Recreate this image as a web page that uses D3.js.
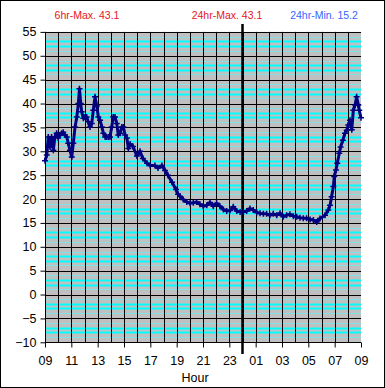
<!DOCTYPE html>
<html>
<head>
<meta charset="utf-8">
<script src="https://cdn.jsdelivr.net/npm/d3@7"></script>
<style>
  body { margin: 0; background: #fff; }
  text { font-family: "Liberation Sans", Arial, sans-serif; }
</style>
</head>
<body>
<div id="chart"></div>
<script>
// minutes after 09:00 and temperature
const minutes = [0, 8, 15, 23, 30, 38, 45, 53, 60, 68, 76, 83, 91, 99, 106, 114, 122, 129, 137, 145,
    152, 157, 163, 167, 175, 182, 190, 197, 205, 213, 220, 228, 236, 243, 251, 259, 266, 274, 281, 289,
    296, 304, 311, 319, 327, 334, 342, 350, 357, 365, 373, 380, 388, 401, 419, 433, 446, 465, 479, 501,
    515, 533, 547, 560, 579, 597, 606, 615, 630, 646, 661, 676, 691, 706, 721, 737, 752, 767, 782, 797,
    813, 828, 843, 858, 874, 889, 904, 919, 934, 949, 965, 980, 995, 1010, 1025, 1040, 1056, 1071, 1086, 1101,
    1116, 1132, 1147, 1162, 1177, 1192, 1208, 1223, 1238, 1253, 1276, 1291, 1299, 1306, 1314, 1318, 1326, 1332, 1341, 1347,
    1357, 1367, 1375, 1382, 1390, 1398, 1405, 1413, 1420, 1428, 1432, 1440];
const temps = [28.0, 29.2, 33.0, 30.9, 33.0, 30.2, 33.0, 33.8, 32.8, 33.4, 33.8, 34.0, 33.4, 33.0, 31.7, 30.2, 28.8, 31.7, 35.1, 37.2,
    40.0, 43.1, 40.0, 38.3, 36.9, 37.2, 37.2, 36.2, 35.1, 35.8, 38.6, 41.4, 39.5, 37.2, 36.5, 35.1, 33.8, 33.0, 33.0, 33.0,
    33.0, 35.1, 37.2, 37.2, 35.8, 33.4, 33.8, 35.1, 35.1, 33.4, 32.8, 30.6, 31.5, 31.0, 29.0, 30.0, 28.5, 27.5, 27.0, 27.0,
    26.5, 27.0, 26.0, 25.0, 23.5, 22.0, 21.0, 20.6, 19.9, 19.4, 19.1, 19.2, 19.4, 18.9, 18.5, 18.7, 19.3, 18.5, 19.1, 18.5,
    17.8, 17.5, 17.6, 18.4, 17.5, 17.3, 17.3, 17.5, 18.0, 17.7, 17.2, 17.0, 16.9, 16.9, 16.6, 16.9, 16.6, 17.0, 16.3, 16.6,
    16.8, 16.4, 16.3, 16.1, 16.0, 16.0, 15.7, 15.6, 15.2, 15.9, 16.6, 17.7, 18.7, 20.5, 22.6, 24.7, 26.1, 27.5, 29.6, 30.9,
    32.3, 33.8, 34.4, 35.5, 36.5, 34.5, 38.6, 39.7, 41.4, 39.7, 38.6, 37.0];

const yTicks = [55, 50, 45, 40, 35, 30, 25, 20, 15, 10, 5, 0, -5, -10];
const xTicks = [0, 120, 240, 360, 480, 600, 720, 840, 960, 1080, 1200, 1320, 1440];
const startHour = 9;
const midnight = 900;

const stats = [
    {label: "6hr-Max. 43.1", color: "#e8141c", x: 87},
    {label: "24hr-Max. 43.1", color: "#e8141c", x: 227},
    {label: "24hr-Min. 15.2", color: "#3366ff", x: 324}
];

const data = minutes.map((m, i) => ({m: m, v: temps[i]}));

const W = 385, H = 388;
const svg = d3.select("#chart").append("svg")
    .attr("width", W).attr("height", H);

svg.append("rect")
    .attr("x", 0.5).attr("y", 0.5)
    .attr("width", W - 1).attr("height", H - 1)
    .attr("fill", "#fff").attr("stroke", "#000");

const x = d3.scaleLinear().domain([0, 1440]).range([45, 361]);
const y = d3.scaleLinear().domain([-10, 55]).range([342.3, 31.9]);

// plot background
svg.append("rect")
    .attr("x", x(0)).attr("y", y(55))
    .attr("width", x(1440) - x(0)).attr("height", y(-10) - y(55))
    .attr("fill", "#c0c0c0");

// minor horizontal lines (cyan)
const minor = [];
d3.range(-10, 55, 5).forEach(b => {
    minor.push({v: b + 1.1, c: "#7fe3ea", w: 1});
    minor.push({v: b + 2.1, c: "#00ffff", w: 2});
    minor.push({v: b + 3.0, c: "#00ffff", w: 2});
    minor.push({v: b + 4.0, c: "#7fe3ea", w: 1});
});
svg.append("g").selectAll("line")
    .data(minor)
    .enter().append("line")
    .attr("x1", x(0)).attr("x2", x(1440))
    .attr("y1", d => Math.round(y(d.v)) + 0.5)
    .attr("y2", d => Math.round(y(d.v)) + 0.5)
    .attr("stroke", d => d.c)
    .attr("stroke-width", d => d.w);

// major horizontal lines
svg.append("g").selectAll("line")
    .data(yTicks)
    .enter().append("line")
    .attr("x1", x(0)).attr("x2", x(1440))
    .attr("y1", d => Math.round(y(d)) + 0.5)
    .attr("y2", d => Math.round(y(d)) + 0.5)
    .attr("stroke", "#000");

// hourly vertical lines
svg.append("g").selectAll("line")
    .data(d3.range(0, 1440, 60))
    .enter().append("line")
    .attr("x1", d => Math.round(x(d)) + 0.5)
    .attr("x2", d => Math.round(x(d)) + 0.5)
    .attr("y1", y(55)).attr("y2", y(-10))
    .attr("stroke", "#000");

// midnight marker
svg.append("line")
    .attr("x1", x(midnight)).attr("x2", x(midnight))
    .attr("y1", 24).attr("y2", 354)
    .attr("stroke", "#000").attr("stroke-width", 2.5);

// y axis
const yAxis = svg.append("g")
    .attr("transform", `translate(${Math.round(x(0)) + 0.5},0)`)
    .call(d3.axisLeft(y).tickValues(yTicks).tickSize(5).tickPadding(4).tickFormat(d3.format("d")));
yAxis.select(".domain").remove();
yAxis.selectAll("line").attr("stroke", "#000");
yAxis.selectAll("text").attr("font-size", 12.5).attr("fill", "#000")
    .attr("font-family", "Liberation Sans, Arial, sans-serif");

// x axis
const xAxis = svg.append("g")
    .attr("transform", `translate(0,${Math.round(y(-10)) + 0.5})`)
    .call(d3.axisBottom(x).tickValues(xTicks).tickSize(5).tickPadding(9)
        .tickFormat(d => String((startHour + d / 60) % 24).padStart(2, "0")));
xAxis.select(".domain").remove();
xAxis.selectAll("line").attr("stroke", "#000");
xAxis.selectAll("text").attr("font-size", 12.5).attr("fill", "#000")
    .attr("font-family", "Liberation Sans, Arial, sans-serif");

svg.append("text")
    .attr("x", 195).attr("y", 382)
    .attr("text-anchor", "middle")
    .attr("font-size", 12.5)
    .text("Hour");

// header stats
svg.append("g").selectAll("text")
    .data(stats)
    .enter().append("text")
    .attr("x", d => d.x).attr("y", 19)
    .attr("text-anchor", "middle")
    .attr("font-size", 10.5)
    .attr("fill", d => d.color)
    .text(d => d.label);

// temperature line
svg.append("path")
    .datum(data)
    .attr("fill", "none")
    .attr("stroke", "#000080")
    .attr("stroke-width", 3)
    .attr("stroke-linejoin", "round")
    .attr("d", d3.line().x(d => x(d.m)).y(d => y(d.v)));

svg.append("g").selectAll("path")
    .data(data)
    .enter().append("path")
    .attr("transform", d => `translate(${x(d.m)},${y(d.v)})`)
    .attr("d", "M-3,0H3M0,-3V3")
    .attr("stroke", "#000080")
    .attr("stroke-width", 1.5);
</script>
</body>
</html>
